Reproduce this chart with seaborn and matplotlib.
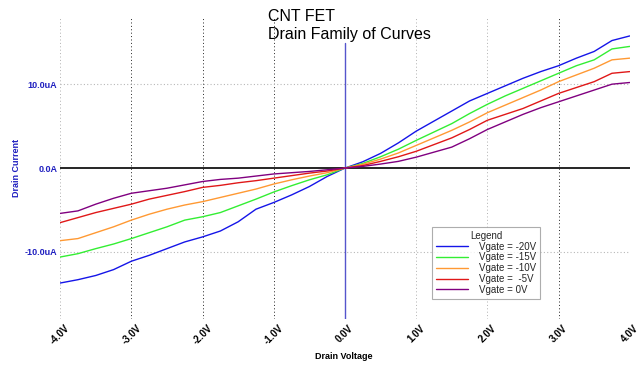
import numpy as np
import pandas as pd
import matplotlib
matplotlib.use("Agg")
import matplotlib.pyplot as plt
import seaborn as sns

vd = [-4.0, -3.75, -3.5, -3.25, -3.0, -2.75, -2.5, -2.25, -2.0, -1.75, -1.5, -1.25, -1.0,
      -0.75, -0.5, -0.25, 0.0, 0.25, 0.5, 0.75, 1.0, 1.25, 1.5, 1.75, 2.0, 2.25, 2.5,
      2.75, 3.0, 3.25, 3.5, 3.75, 4.0]
i_m20 = [-13.7, -13.3, -12.8, -12.1, -11.1, -10.4, -9.6, -8.8, -8.2, -7.5, -6.4, -4.9, -4.1,
         -3.2, -2.2, -1.0, 0.0, 0.75, 1.75, 3.0, 4.4, 5.6, 6.8, 8.0, 8.9, 9.8, 10.7,
         11.5, 12.2, 13.1, 13.9, 15.2, 15.75]
i_m15 = [-10.6, -10.2, -9.6, -9.05, -8.4, -7.7, -7.0, -6.2, -5.8, -5.3, -4.5, -3.7, -2.85,
         -2.1, -1.4, -0.8, 0.0, 0.55, 1.35, 2.25, 3.3, 4.3, 5.3, 6.5, 7.6, 8.6, 9.5,
         10.4, 11.3, 12.2, 12.9, 14.2, 14.5]
i_m10 = [-8.65, -8.4, -7.7, -7.0, -6.2, -5.5, -4.9, -4.4, -4.0, -3.5, -3.0, -2.5, -1.9,
         -1.4, -0.95, -0.55, 0.0, 0.45, 1.07, 1.8, 2.7, 3.6, 4.5, 5.5, 6.6, 7.5, 8.4,
         9.3, 10.3, 11.1, 11.9, 12.9, 13.1]
i_m5 = [-6.5, -5.9, -5.3, -4.8, -4.3, -3.7, -3.25, -2.8, -2.3, -2.06, -1.75, -1.5, -1.2,
        -0.9, -0.6, -0.35, 0.0, 0.3, 0.8, 1.35, 2.0, 2.8, 3.6, 4.6, 5.7, 6.4, 7.1,
        8.0, 8.9, 9.6, 10.3, 11.3, 11.5]
i_0 = [-5.4, -5.1, -4.3, -3.6, -3.0, -2.7, -2.4, -2.0, -1.6, -1.35, -1.2, -0.95, -0.7,
       -0.55, -0.4, -0.2, 0.0, 0.2, 0.48, 0.8, 1.3, 1.9, 2.5, 3.5, 4.6, 5.5, 6.4,
       7.2, 7.9, 8.6, 9.3, 10.0, 10.2]
series_labels = ["Vgate = -20V", "Vgate = -15V", "Vgate = -10V", "Vgate =  -5V", "Vgate = 0V"]
x_ticks = [-4, -3, -2, -1, 0, 1, 2, 3, 4]
x_tick_labels = ["-4.0V", "-3.0V", "-2.0V", "-1.0V", "0.0V", "1.0V", "2.0V", "3.0V", "4.0V"]
y_ticks = [-10, 0, 10]
y_tick_labels = ["-10.0uA", "0.0A", "10.0uA"]

rows = []
for lab, vals in zip(series_labels, [i_m20, i_m15, i_m10, i_m5, i_0]):
    for x, y in zip(vd, vals):
        rows.append({"Vd": x, "Id": y, "series": lab})
df = pd.DataFrame(rows)

sns.set_style("white")
plt.rcParams['font.family'] = ['Liberation Sans', 'DejaVu Sans']

fig = plt.figure(figsize=(6.4, 3.79), dpi=100)
ax = fig.add_axes([0.094, 0.158, 0.89, 0.797])

palette = ["#1515e8", "#33ee33", "#ff9933", "#e01818", "#800080"]
sns.lineplot(data=df, x="Vd", y="Id", hue="series", palette=palette, ax=ax,
             linewidth=1.0, legend=True, zorder=3)

ax.set_xlim(-4, 4)
ax.set_ylim(-18, 18)
for s in ax.spines.values():
    s.set_visible(False)

dark = {-3, -2, -1, 3, 4}
for xv in x_ticks:
    if xv == 0:
        continue
    c = "#222222" if xv in dark else "#b0b0b0"
    ax.axvline(xv, color=c, linestyle=(0, (1, 2.5)), linewidth=0.7, zorder=1)
for yv in (-10, 10):
    ax.axhline(yv, color="#b8b8b8", linestyle=(0, (1, 2)), linewidth=0.8, zorder=1)
ax.axhline(0, color="black", linewidth=1.2, zorder=2)
ax.axvline(0, ymin=0.0, ymax=0.913, color="#5555cc", linewidth=1.0, zorder=2)

ax.set_xticks(x_ticks)
ax.set_xticklabels(x_tick_labels, rotation=45, fontsize=7, fontweight="bold",
                   color="black", ha="center", va="top")
ax.set_yticks(y_ticks)
ax.set_yticklabels(y_tick_labels, fontsize=6.5, fontweight="bold", color="#2020c0")
ax.tick_params(axis="both", length=0)
ax.tick_params(axis="y", pad=2)
ax.tick_params(axis="x", pad=3)

ax.set_xlabel("Drain Voltage", fontsize=6.5, fontweight="bold", color="black")
ax.xaxis.set_label_coords(0.497, -0.11)
ax.set_ylabel("Drain Current", fontsize=6.5, fontweight="bold", color="#2020c0")
ax.yaxis.set_label_coords(-0.068, 0.5)

fig.text(0.418, 0.977, "CNT FET\nDrain Family of Curves", fontsize=11.5,
         ha="left", va="top", color="black", linespacing=1.25)

handles, labels = ax.get_legend_handles_labels()
leg = ax.legend(handles, labels, title="Legend", loc="upper left",
                bbox_to_anchor=(0.653, 0.305), borderaxespad=0,
                fontsize=7, title_fontsize=7,
                frameon=True, fancybox=False, edgecolor="#999999",
                handlelength=3.3, borderpad=0.4, labelspacing=0.08, handletextpad=1.1)
leg.get_frame().set_linewidth(0.8)
leg.set_zorder(5)

fig.savefig("out.png", dpi=100, facecolor="white")
